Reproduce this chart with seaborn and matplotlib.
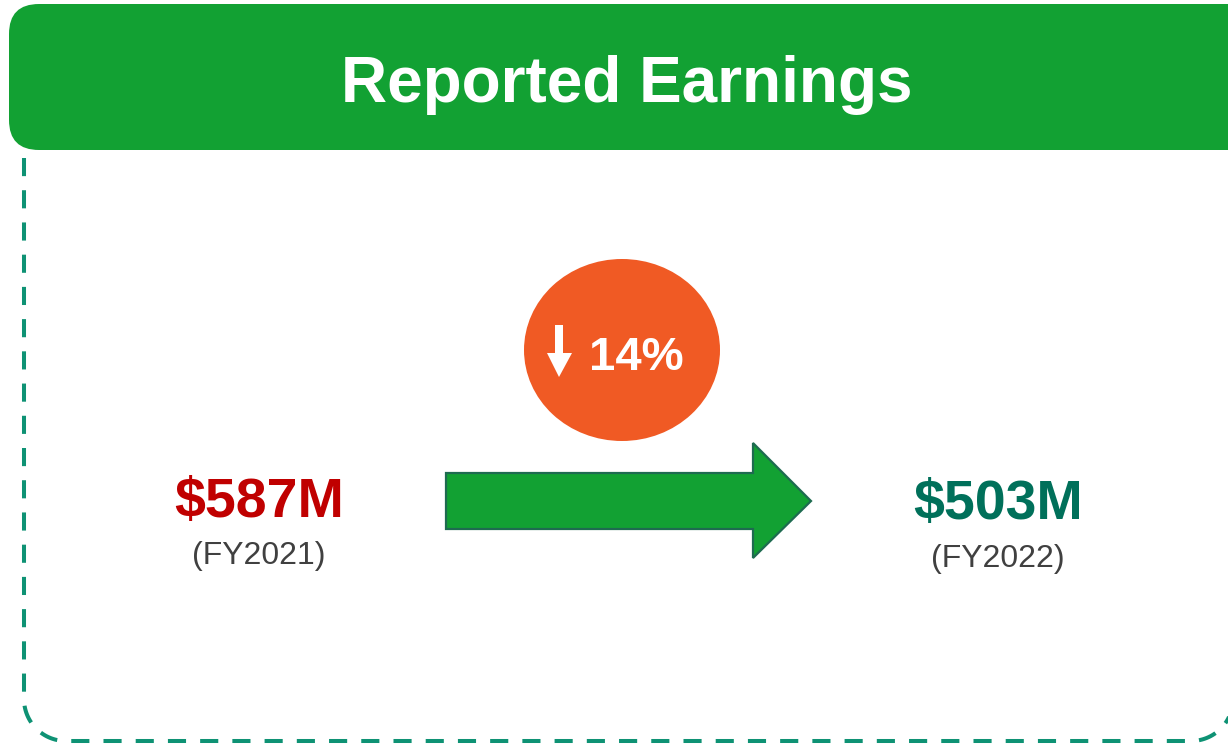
import matplotlib
matplotlib.use("Agg")
import matplotlib.pyplot as plt
import seaborn as sns
import numpy as np
from matplotlib.patches import FancyBboxPatch, Ellipse, Polygon

# data
years = ["FY2021", "FY2022"]
earnings_musd = [587, 503]
pct_change = [14]
title = "Reported Earnings"

# colours
header_green = "#12A133"
border_teal = "#0E9274"
badge_orange = "#F05A24"
value_colors = ["#C00000", "#00705A"]
label_gray = "#404040"


def rounded_frame(x0, y0, x1, y1, r):
    # open frame: left side, bottom-left corner, bottom, bottom-right corner, right side
    t = np.linspace(0, np.pi / 2, 30)
    left_corner = np.column_stack([x0 + r - r * np.cos(t), y1 - r + r * np.sin(t)])
    right_corner = np.column_stack([x1 - r + r * np.sin(t), y1 - r + r * np.cos(t)])
    pts = np.vstack([[x0, y0], left_corner, right_corner, [x1, y0]])
    return pts[:, 0], pts[:, 1]


sns.set_theme(style="white")
plt.rcParams["font.family"] = ["Liberation Sans", "DejaVu Sans"]

fig = plt.figure(figsize=(12.28, 7.44), dpi=100)
ax = fig.add_axes([0, 0, 1, 1])
ax.set_xlim(0, 1228)
ax.set_ylim(744, 0)
ax.axis("off")

# dashed frame
fx, fy = rounded_frame(24, 158, 1233, 741, 42)
ax.plot(fx, fy, color=border_teal, linewidth=2.9, dashes=(4.5, 3.5),
        solid_capstyle="butt", dash_capstyle="butt", zorder=1)

# header bar
header = FancyBboxPatch((9, 4), 1260, 146, boxstyle="round,pad=0,rounding_size=30",
                        facecolor=header_green, edgecolor="none", zorder=2)
ax.add_patch(header)
ax.text(627, 102, title, color="white", fontsize=46, fontweight="bold",
        ha="center", va="baseline", zorder=3)

# orange badge with change
ax.add_patch(Ellipse((622, 350), 196, 182, facecolor=badge_orange, edgecolor="none", zorder=2))
ax.add_patch(Polygon([(555, 325), (563, 325), (563, 353), (572, 353), (559, 377),
                      (547, 353), (555, 353)], closed=True, facecolor="white",
                     edgecolor="none", zorder=3))
ax.text(636, 370, f"{pct_change[0]}%", color="white", fontsize=34, fontweight="bold",
        ha="center", va="baseline", zorder=3)

# big arrow
ax.add_patch(Polygon([(446, 473), (753, 473), (753, 443), (811, 501), (753, 558),
                      (753, 529), (446, 529)], closed=True, facecolor=header_green,
                     edgecolor="#1E6B50", linewidth=1.6, zorder=2))

# values and years
xs = [259, 998]
value_base = [517, 519]
year_base = [564, 567]
for x, v, yr, c, vb, yb in zip(xs, earnings_musd, years, value_colors, value_base, year_base):
    ax.text(x, vb, f"${v}M", color=c, fontsize=40, fontweight="bold",
            ha="center", va="baseline", zorder=3)
    ax.text(x, yb, f"({yr})", color=label_gray, fontsize=23,
            ha="center", va="baseline", zorder=3)

fig.savefig("out.png", dpi=100, facecolor="white")
plt.close(fig)
